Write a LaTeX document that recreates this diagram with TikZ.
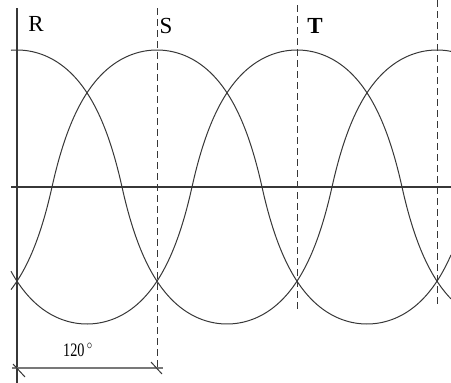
\documentclass[tikz,border=0pt]{standalone}
\usepackage{fontspec}
\setmainfont{Liberation Serif}
\usepackage{tikz}
\usetikzlibrary{calc,positioning}

\begin{document}
\begin{tikzpicture}[
  x=1pt, y=-1pt,
  declare function={wav(\t)=2.2*cos(\t)/(1+1.2*abs(cos(\t)));},
  font=\fontsize{23}{26}\selectfont
]
  \definecolor{inkgray}{RGB}{55,55,55}
  \definecolor{dimgray}{RGB}{120,120,120}

  \tikzset{
    wave/.style={inkgray, line width=1pt},
    axisline/.style={inkgray, line width=1.2pt},
    phaseline/.style={inkgray, line width=1pt, dash pattern=on 7pt off 4pt},
    phaselabel/.style={black, inner sep=0pt}
  }

  \def\ymid{187}
  \def\amp{137}
  \def\per{420}

  \useasboundingbox (0,0) rectangle (451,383);

  % axes
  \draw[axisline] (17,8) -- (17,383);
  \draw[axisline] (11,\ymid) -- (451,\ymid);

  % phase markers at the maxima of S, T and R again
  \draw[phaseline] (157,8) -- (157,370);
  \draw[phaseline] (297,5) -- (297,312);
  \draw[phaseline] (437,0) -- (437,307);

  % the three phases, shifted by 120 degrees
  \foreach \xo in {17,157,297}{
    \draw[wave] plot[domain=11:451, samples=220, smooth, variable=\x]
      (\x, {\ymid - \amp*wav((\x-\xo)/\per*360)});
  }

  % labels
  \node[phaselabel] (labR) at (36,24) {R};
  \node[phaselabel] (labS) at (166,26) {S};
  \node[phaselabel] (labT) at (315,26) {\bfseries T};

  % 120 degree dimension
  \coordinate (dimL) at (12,368);
  \coordinate (dimR) at (163,368);
  \draw[dimgray, line width=2pt] (dimL) -- (dimR);
  \draw[inkgray, line width=1pt] (13,364) -- (25,377);
  \draw[inkgray, line width=1pt] (151,362) -- (162,374);
  \node[phaselabel, font=\fontsize{19}{20}\selectfont, xscale=0.75] (lab120)
    at (78,350) {120\,$^\circ$};
\end{tikzpicture}
\end{document}
